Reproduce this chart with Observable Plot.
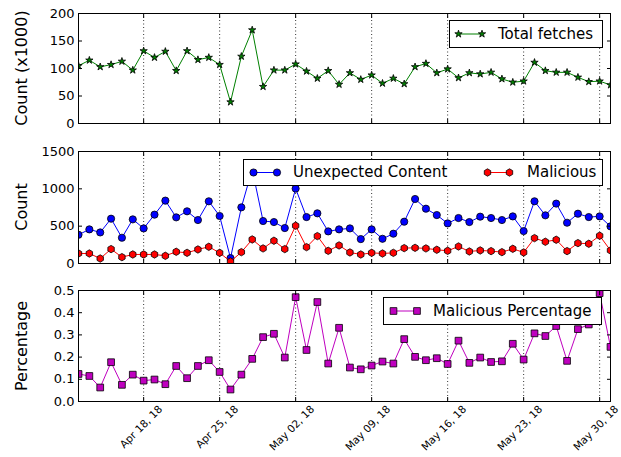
<!DOCTYPE html>
<html>
<head>
<meta charset="utf-8">
<script src="https://cdn.jsdelivr.net/npm/d3@7"></script>
<script src="https://cdn.jsdelivr.net/npm/@observablehq/plot@0.6"></script>
<style>
  html, body { margin: 0; padding: 0; background: #fff; }
  body { font-family: "DejaVu Sans", sans-serif; }
  #chart { position: relative; width: 621px; height: 457px; overflow: hidden; background: #fff; }
  .panel { position: absolute; left: 0; }
  .ylabel { position: absolute; font-size: 16px; color: #000; white-space: nowrap; transform: translate(-50%, -50%) rotate(-90deg); line-height: 1; }
  .legend { position: absolute; background: #fff; border: 1px solid #000; box-sizing: border-box; font-size: 15px; color: #000; }
  .legend span { position: absolute; top: 0; white-space: nowrap; }
  .legend svg { position: absolute; left: 0; top: 0; overflow: visible; }
</style>
</head>
<body>
<div id="chart"></div>
<script>
// ---------- data ----------
const startDay = "2018-04-12";
const endDay = "2018-05-31";
const weekTickLabels = ["2018-04-18", "2018-04-25", "2018-05-02", "2018-05-09", "2018-05-16", "2018-05-23", "2018-05-30"];

const totalFetches = [
  105, 115, 103, 107, 113, 97, 132, 120, 131, 96, 132, 116, 120, 107, 39, 122, 170, 67, 97,
  97, 108, 95, 82, 96, 71, 92, 80, 88, 73, 82, 72, 103, 109, 92, 99, 83, 92, 90, 93, 81, 75, 77, 111, 96, 93, 93, 84, 76, 77, 70
];
const unexpectedContent = [
  385, 457, 416, 600, 345, 591, 470, 654, 842, 618, 699, 582, 833, 636, 72, 752, 1260, 569, 555,
  475, 1003, 622, 672, 430, 457, 470, 327, 457, 331, 399, 560, 864, 734, 649, 537, 609, 555, 627, 609, 582, 631, 434, 833, 645, 802, 546, 667, 622, 631, 497
];
const malicious = [
  134, 134, 67, 193, 85, 121, 121, 121, 103, 157, 143, 188, 224, 143, 27, 152, 322, 202, 305,
  193, 506, 219, 367, 170, 242, 148, 121, 143, 134, 143, 206, 210, 202, 184, 170, 228, 161, 175, 166, 152, 197, 148, 340, 291, 318, 166, 273, 264, 372, 175
];
const maliciousPercentage = [
  0.124, 0.115, 0.063, 0.177, 0.075, 0.121, 0.094, 0.099, 0.078, 0.160, 0.105, 0.160, 0.186, 0.133, 0.054, 0.121, 0.192, 0.290, 0.305,
  0.198, 0.470, 0.232, 0.448, 0.171, 0.332, 0.153, 0.145, 0.162, 0.180, 0.171, 0.281, 0.201, 0.186, 0.195, 0.169, 0.274, 0.174, 0.198, 0.178, 0.181, 0.260, 0.189, 0.307, 0.295, 0.340, 0.183, 0.326, 0.347, 0.488, 0.246
];
const yTicksTop = [0, 50, 100, 150, 200];
const yTicksMid = [0, 500, 1000, 1500];
const yTicksBot = [0, 0.1, 0.2, 0.3, 0.4, 0.5];
const yLabels = ["Count (x1000)", "Count", "Percentage"];

// ---------- build table ----------
const parseDay = s => new Date(s + "T00:00:00Z");
const days = d3.utcDay.range(parseDay(startDay), d3.utcDay.offset(parseDay(endDay), 1));
const weekTicks = weekTickLabels.map(parseDay);
const table = days.map((date, i) => ({
  date,
  total: totalFetches[i],
  unexpected: unexpectedContent[i],
  malicious: malicious[i],
  pct: maliciousPercentage[i]
}));

const FONT = "DejaVu Sans";
const W = 621, ML = 78, MR = 11;
const colors = { green: "#008000", blue: "#0000ff", red: "#ff0000", magenta: "#bf00bf" };
const chart = document.getElementById("chart");

function panel({ top, height, marginTop, marginBottom, yDomain, yTicks, yFormat, label, series, xLabels }) {
  const marks = [
    Plot.gridX(weekTicks, { stroke: "#000", strokeOpacity: 1, strokeWidth: 0.8, strokeDasharray: "1,2.5" })
  ];
  for (const s of series) {
    marks.push(Plot.line(table, { x: "date", y: s.key, stroke: s.color, strokeWidth: 1, clip: true }));
    marks.push(Plot.dot(table, { x: "date", y: s.key, symbol: s.symbol, r: s.r, fill: s.color, stroke: "#000", strokeWidth: 0.8, clip: true }));
  }
  marks.push(
    Plot.frame({ stroke: "#000", strokeWidth: 1 }),
    Plot.axisY(yTicks, { anchor: "left", tickSize: -4, fill: "none", label: null }),
    Plot.axisY(yTicks, { anchor: "right", tickSize: -4, fill: "none", label: null }),
    Plot.axisY(yTicks, { anchor: "left", tickSize: 0, stroke: "none", tickPadding: 4, fontSize: 13, tickFormat: yFormat, label: null }),
    Plot.axisX(weekTicks, { anchor: "bottom", tickSize: -4, fill: "none", label: null }),
    Plot.axisX(weekTicks, { anchor: "top", tickSize: -4, fill: "none", label: null })
  );
  if (xLabels) {
    marks.push(Plot.axisX(weekTicks, {
      anchor: "bottom", tickSize: 0, stroke: "none", tickRotate: -45, tickPadding: 6, dx: 17,
      tickFormat: d3.utcFormat("%b %d, %y"), fontSize: 10.5, label: null
    }));
  }
  const svg = Plot.plot({
    width: W, height, marginLeft: ML, marginRight: MR, marginTop, marginBottom,
    style: { fontFamily: FONT, background: "transparent", color: "#000", overflow: "visible" },
    x: { type: "utc", domain: [days[0], days[days.length - 1]] },
    y: { domain: yDomain },
    marks
  });
  svg.classList.add("panel");
  svg.style.top = top + "px";
  chart.append(svg);

  // rotated y-axis title, centred on the plotting frame
  const lab = document.createElement("div");
  lab.className = "ylabel";
  lab.textContent = label;
  lab.style.left = "22px";
  lab.style.top = (top + marginTop + (height - marginTop - marginBottom) / 2) + "px";
  chart.append(lab);
}

panel({
  top: 0, height: 128, marginTop: 13, marginBottom: 5,
  yDomain: [0, 200], yTicks: yTicksTop, yFormat: d3.format("d"), label: yLabels[0],
  series: [{ key: "total", color: colors.green, symbol: "star", r: 2.3 }]
});
panel({
  top: 140, height: 128, marginTop: 11, marginBottom: 5,
  yDomain: [0, 1500], yTicks: yTicksMid, yFormat: d3.format("d"), label: yLabels[1],
  series: [
    { key: "unexpected", color: colors.blue, symbol: "circle", r: 3.6 },
    { key: "malicious", color: colors.red, symbol: "hexagon", r: 3.2 }
  ]
});
panel({
  top: 280, height: 177, marginTop: 10, marginBottom: 56,
  yDomain: [0, 0.5], yTicks: yTicksBot, yFormat: d3.format(".1f"), label: yLabels[2],
  series: [{ key: "pct", color: colors.magenta, symbol: "square", r: 3.8 }],
  xLabels: true
});

// ---------- legends ----------
function symbolPath(symbol, r) {
  if (symbol === "hexagon") {
    const rx = r, ry = r * 2 / Math.sqrt(3), hy = ry / 2;
    return `M0,${ry}L${rx},${hy}L${rx},${-hy}L0,${-ry}L${-rx},${-hy}L${-rx},${hy}Z`;
  }
  const map = { star: d3.symbolStar, circle: d3.symbolCircle, square: d3.symbolSquare };
  return d3.symbol(map[symbol], Math.PI * r * r)();
}
function legend({ left, top, width, height, entries }) {
  const div = document.createElement("div");
  div.className = "legend";
  Object.assign(div.style, { left: left + "px", top: top + "px", width: width + "px", height: height + "px" });
  const inner = height - 2;
  for (const e of entries) {
    const svg = d3.create("svg").attr("width", width).attr("height", inner);
    const cy = inner / 2;
    svg.append("line").attr("x1", e.x0).attr("x2", e.x1).attr("y1", cy).attr("y2", cy)
      .attr("stroke", e.color).attr("stroke-width", 1);
    for (const x of [e.x0, e.x1]) {
      svg.append("path").attr("d", symbolPath(e.symbol, e.r))
        .attr("transform", `translate(${x},${cy})`)
        .attr("fill", e.color).attr("stroke", "#000").attr("stroke-width", 0.8);
    }
    div.append(svg.node());
    const span = document.createElement("span");
    span.textContent = e.label;
    span.style.left = e.tx + "px";
    span.style.lineHeight = inner + "px";
    div.append(span);
  }
  chart.append(div);
}
legend({ left: 449, top: 20, width: 154, height: 28, entries: [
  { label: "Total fetches", color: colors.green, symbol: "star", r: 2.3, x0: 8.5, x1: 32, tx: 48 }
]});
legend({ left: 243, top: 159, width: 360, height: 27, entries: [
  { label: "Unexpected Content", color: colors.blue, symbol: "circle", r: 3.6, x0: 9.5, x1: 33, tx: 49 },
  { label: "Malicious", color: colors.red, symbol: "hexagon", r: 3.2, x0: 243.5, x1: 265.5, tx: 283 }
]});
legend({ left: 383, top: 297, width: 219, height: 28, entries: [
  { label: "Malicious Percentage", color: colors.magenta, symbol: "square", r: 3.8, x0: 9.5, x1: 33, tx: 49 }
]});
</script>
</body>
</html>
